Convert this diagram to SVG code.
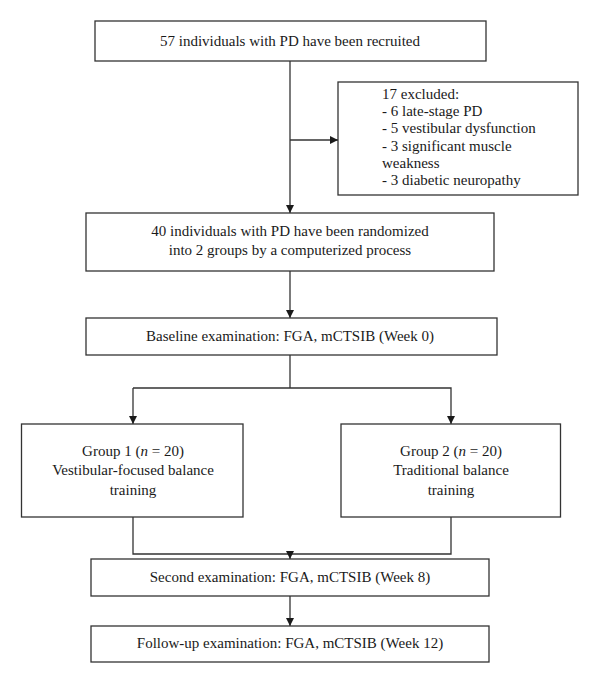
<svg xmlns="http://www.w3.org/2000/svg" width="600" height="684" viewBox="0 0 600 684">
<defs>
<style>
.box{fill:#fff;stroke:#333;stroke-width:1.3}
.ln{fill:none;stroke:#333;stroke-width:1.3}
.t{font-family:"Liberation Serif","DejaVu Serif",serif;font-size:15px;fill:#1a1a1a}
.c{text-anchor:middle}
</style>
<marker id="ah" viewBox="0 0 10 10" refX="10" refY="5" markerWidth="8" markerHeight="8" markerUnits="userSpaceOnUse" orient="auto">
<path d="M0,0 L10,5 L0,10 Z" fill="#1a1a1a"/>
</marker>
</defs>
<rect width="600" height="684" fill="#fff"/>
<g id="connectors">
<line class="ln" x1="290" y1="61" x2="290" y2="213" marker-end="url(#ah)"/>
<line class="ln" x1="290" y1="140" x2="338" y2="140" marker-end="url(#ah)"/>
<line class="ln" x1="290" y1="271" x2="290" y2="318" marker-end="url(#ah)"/>
<line class="ln" x1="290" y1="355" x2="290" y2="388"/>
<polyline class="ln" points="133,388 451,388 451,424" marker-end="url(#ah)"/>
<line class="ln" x1="133" y1="388" x2="133" y2="424" marker-end="url(#ah)"/>
<polyline class="ln" points="133,517 133,554 451,554 451,517"/>
<line class="ln" x1="290" y1="554" x2="290" y2="559" marker-end="url(#ah)"/>
<line class="ln" x1="290" y1="596" x2="290" y2="626" marker-end="url(#ah)"/>
</g>
<g id="recruited">
<rect class="box" x="95" y="21" width="391" height="40"/>
<text class="t c" x="290" y="45.5">57 individuals with PD have been recruited</text>
</g>
<g id="excluded">
<rect class="box" x="338" y="82" width="240" height="113"/>
<text class="t" x="382" y="98.5">17 excluded:</text>
<text class="t" x="382" y="115.8">- 6 late-stage PD</text>
<text class="t" x="382" y="133.2">- 5 vestibular dysfunction</text>
<text class="t" x="382" y="150.6">- 3 significant muscle</text>
<text class="t" x="382" y="168">weakness</text>
<text class="t" x="382" y="185.4">- 3 diabetic neuropathy</text>
</g>
<g id="randomized">
<rect class="box" x="86" y="213" width="408" height="58"/>
<text class="t c" x="290" y="236">40 individuals with PD have been randomized</text>
<text class="t c" x="290" y="254.5">into 2 groups by a computerized process</text>
</g>
<g id="baseline">
<rect class="box" x="86" y="318" width="411" height="37"/>
<text class="t c" x="290" y="340.5">Baseline examination: FGA, mCTSIB (Week 0)</text>
</g>
<g id="group1">
<rect class="box" x="21.5" y="424" width="221.5" height="93"/>
<text class="t c" x="133" y="455.5">Group 1 (<tspan font-style="italic">n</tspan> = 20)</text>
<text class="t c" x="133" y="475">Vestibular-focused balance</text>
<text class="t c" x="133" y="495">training</text>
</g>
<g id="group2">
<rect class="box" x="341" y="424" width="219.5" height="93"/>
<text class="t c" x="451" y="455.5">Group 2 (<tspan font-style="italic">n</tspan> = 20)</text>
<text class="t c" x="451" y="475">Traditional balance</text>
<text class="t c" x="451" y="495">training</text>
</g>
<g id="second">
<rect class="box" x="91" y="559" width="398" height="37"/>
<text class="t c" x="290" y="581.5">Second examination: FGA, mCTSIB (Week 8)</text>
</g>
<g id="followup">
<rect class="box" x="91" y="626" width="398" height="36"/>
<text class="t c" x="290" y="648">Follow-up examination: FGA, mCTSIB (Week 12)</text>
</g>
</svg>
